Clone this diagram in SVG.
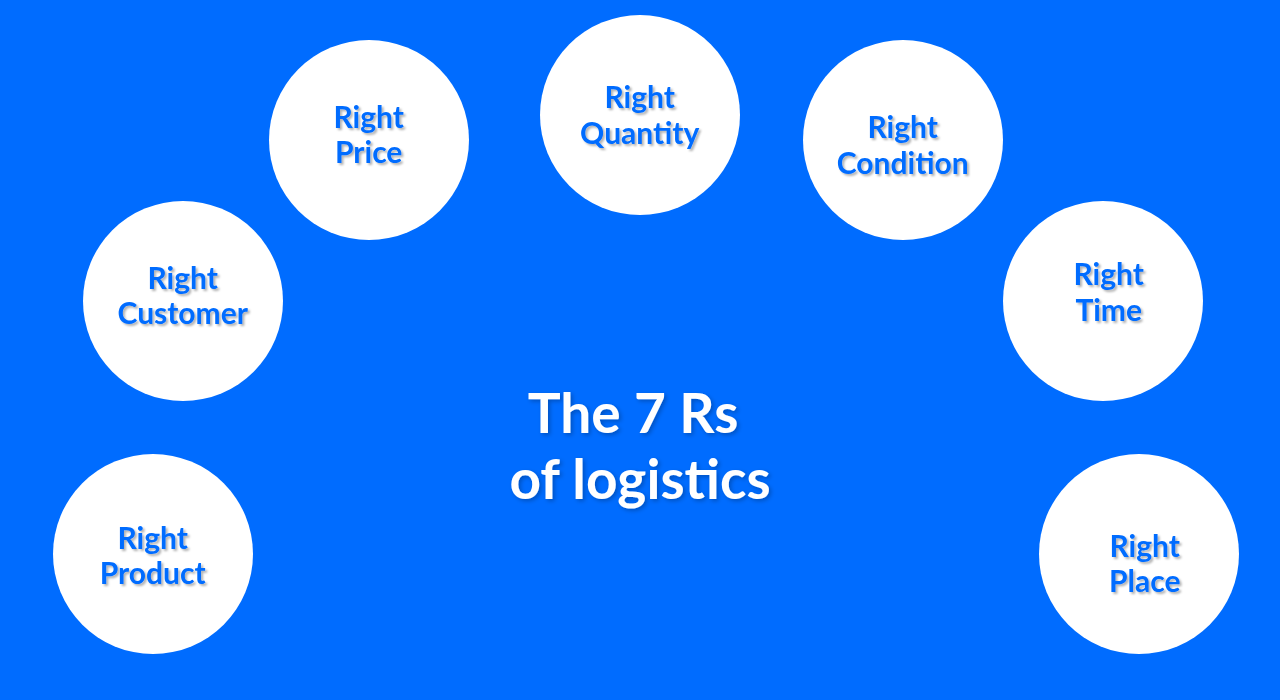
<svg xmlns="http://www.w3.org/2000/svg" width="1280" height="700" viewBox="0 0 1280 700">
<style>
.c{fill:#fff}
text{font-family:Lato,"Noto Sans",sans-serif;font-weight:700;text-anchor:middle}
.l{font-size:30px;fill:#006cff;filter:url(#s1)}
.t{font-size:55px;fill:#fff;filter:url(#s2)}
</style>
<defs>
<filter id="s1" x="-10%" y="-20%" width="120%" height="150%"><feDropShadow dx="2" dy="2" stdDeviation="1.2" flood-color="#000" flood-opacity=".3"/></filter>
<filter id="s2" x="-10%" y="-20%" width="120%" height="150%"><feDropShadow dx="2" dy="2" stdDeviation="2" flood-color="#000" flood-opacity=".25"/></filter>
</defs>
<rect width="1280" height="700" fill="#006cff"/>
<g id="connectors"/>
<g id="product"><circle class="c" cx="153" cy="554" r="100"/><text class="l" x="152.7" y="549">Right</text><text class="l" x="152.7" y="584">Product</text></g>
<g id="customer"><circle class="c" cx="183" cy="301" r="100"/><text class="l" x="182.7" y="289">Right</text><text class="l" x="182.7" y="324">Customer</text></g>
<g id="price"><circle class="c" cx="369" cy="140" r="100"/><text class="l" x="368.7" y="127.5">Right</text><text class="l" x="368.7" y="163">Price</text></g>
<g id="quantity"><circle class="c" cx="640" cy="115" r="100"/><text class="l" x="639.7" y="107.5">Right</text><text class="l" x="639.7" y="143.5">Quantity</text></g>
<g id="condition"><circle class="c" cx="903" cy="140" r="100"/><text class="l" x="902.7" y="138">Right</text><text class="l" x="902.7" y="173.5">Condition</text></g>
<g id="time"><circle class="c" cx="1103" cy="301" r="100"/><text class="l" x="1108.7" y="285">Right</text><text class="l" x="1108.7" y="321">Time</text></g>
<g id="place"><circle class="c" cx="1139" cy="554" r="100"/><text class="l" x="1144.7" y="557">Right</text><text class="l" x="1144.7" y="592">Place</text></g>
<g id="title"><text class="t" x="633" y="432.5">The 7 Rs</text><text class="t" x="640" y="498.5">of logistics</text></g>
</svg>
